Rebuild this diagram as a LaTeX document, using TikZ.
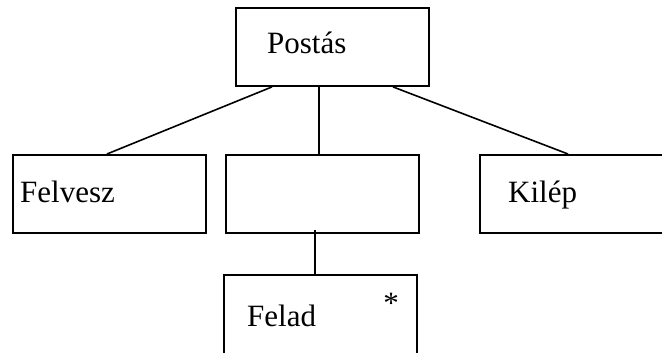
\documentclass[tikz,border=0pt]{standalone}
\usepackage{fontspec}
\setmainfont{Liberation Serif}
\begin{document}
\begin{tikzpicture}[x=1pt,y=-1pt,
  box/.style={draw,line width=1.9pt,minimum width=193pt,minimum height=78pt,inner sep=0pt,anchor=north west},
  lbl/.style={anchor=base west,inner sep=0pt,font=\fontsize{31}{36}\selectfont},
  link/.style={line width=1.6pt}]
\useasboundingbox (0,0) rectangle (662,353);
\clip (0,0) rectangle (662,353);
\fill[white] (0,0) rectangle (662,353);
% boxes
\node[box] (post) at (235,7) {};
\node[box] (felv) at (12,154) {};
\node[box] (mid) at (225,154) {};
\node[box] (kilep) at (479,154) {};
\node[box,minimum height=84pt] (felad) at (223,274) {};
% labels
\node[lbl] (tpost) at (267,54) {Postás};
\node[lbl] (tfelv) at (20,202) {Felvesz};
\node[lbl] (tkilep) at (508,202) {Kilép};
\node[lbl] (tfelad) at (247,326) {Felad};
\node[lbl,anchor=base] (star) at (391,313) {*};
% connectors
\draw[link] ([xshift=37pt]post.south west) -- ([xshift=95pt]felv.north west);
\draw[link] ([xshift=84pt]post.south west) -- ([xshift=94pt]mid.north west);
\draw[link] ([xshift=158pt]post.south west) -- ([xshift=89pt]kilep.north west);
\draw[link] ([xshift=90pt,yshift=4pt]mid.south west) -- ([xshift=92pt]felad.north west);
\end{tikzpicture}
\end{document}
